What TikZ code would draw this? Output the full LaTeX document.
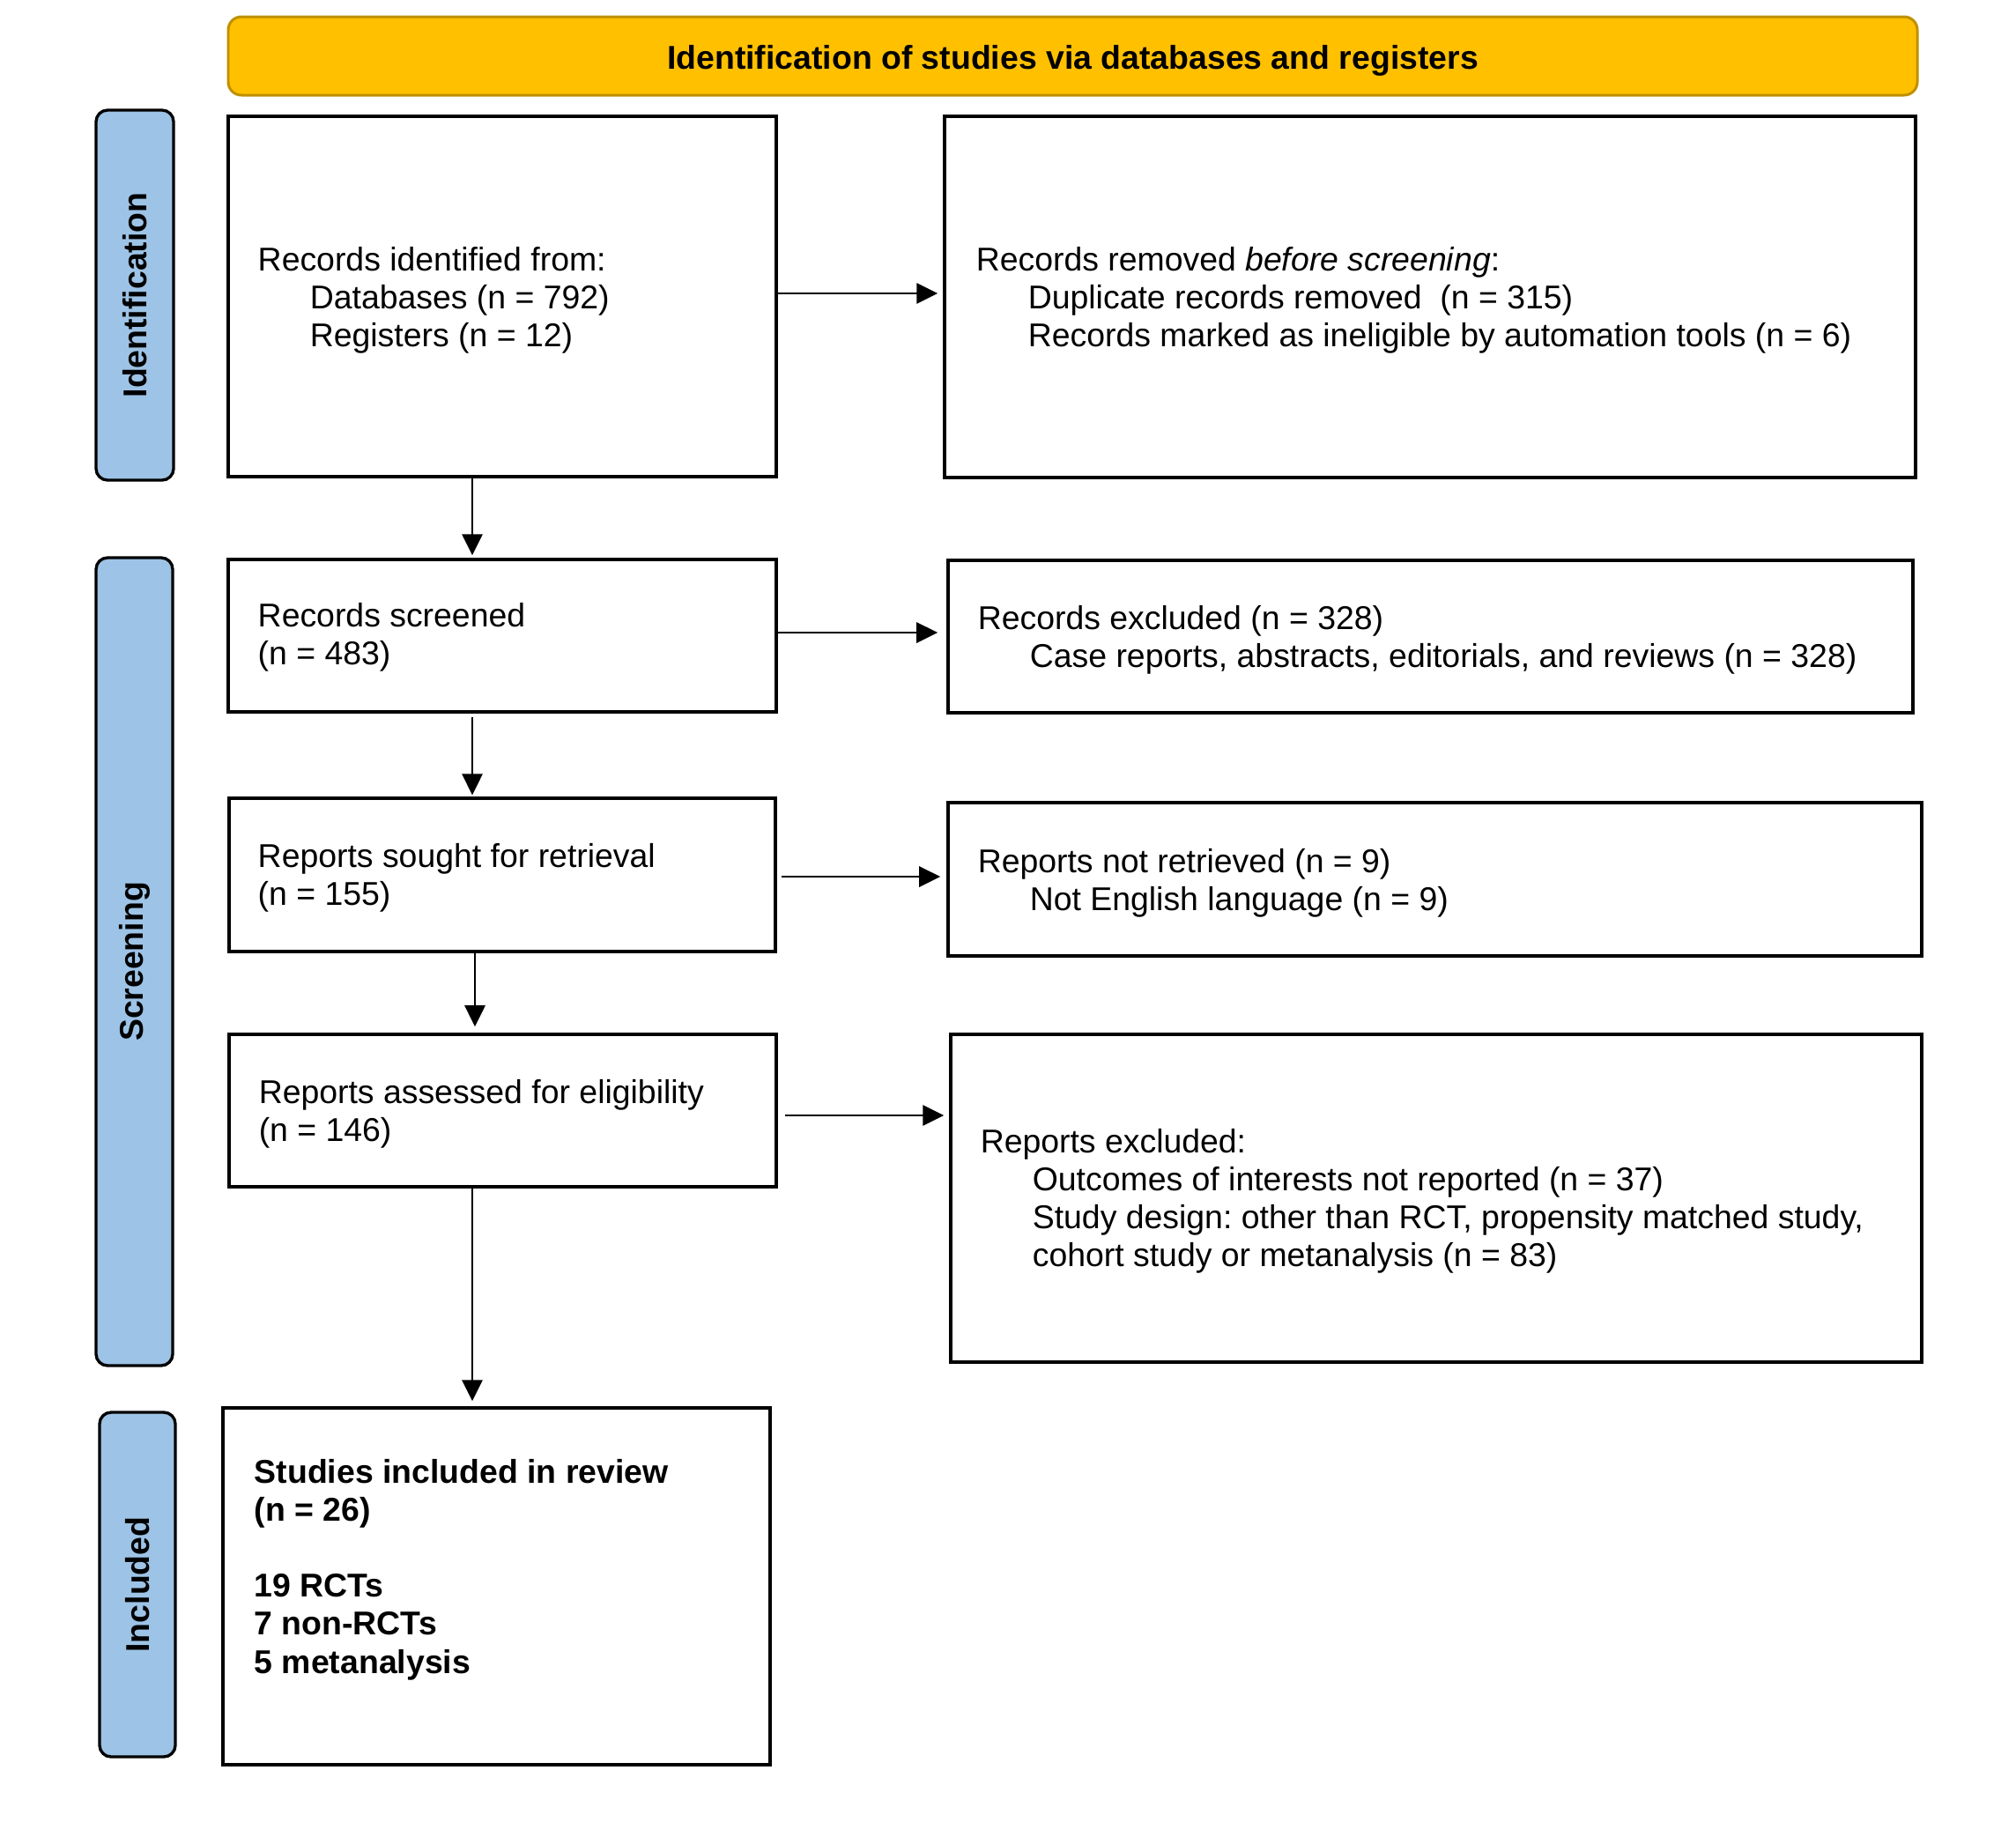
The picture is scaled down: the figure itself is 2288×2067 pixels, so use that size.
\documentclass[tikz,border=0pt]{standalone}
\usepackage{fontspec}
\setmainfont{Liberation Sans}
\usetikzlibrary{arrows.meta,fit,calc}
\definecolor{hdrfill}{HTML}{FFC000}
\definecolor{hdrdraw}{HTML}{BF9000}
\definecolor{sidefill}{HTML}{9DC3E6}
\newcommand{\ind}{\hspace*{15.8pt}}
\frenchspacing
\begin{document}
\begin{tikzpicture}[x=0.26738pt, y=-0.26738pt,
  box/.style={draw=black, line width=0.95pt, inner sep=0pt},
  hdr/.style={draw=hdrdraw, fill=hdrfill, line width=0.8pt, rounded corners=4pt, inner sep=0pt},
  hdrtxt/.style={inner sep=0pt, font=\fontsize{10}{12}\selectfont\bfseries},
  side/.style={draw=black, fill=sidefill, line width=0.9pt, rounded corners=3.5pt, inner sep=0pt},
  txt/.style={inner sep=0pt, align=left, font=\fontsize{10}{11.55}\selectfont\frenchspacing},
  btxt/.style={txt, font=\fontsize{10}{11.55}\selectfont\bfseries\frenchspacing},
  lab/.style={inner sep=0pt, font=\fontsize{10}{12}\selectfont\bfseries, rotate=90},
  arr/.style={line width=0.6pt, -{Triangle[length=6.4pt,width=6.2pt]}}]
\useasboundingbox (0,0) rectangle (2288,2067);

% header
\node[hdr, fit={(259,19) (2176,108)}] (hdr) {};
\node[hdrtxt, anchor=base] (hdrt) at ($(hdr.center)+(0,14.5)$) {Identification of studies via databases and registers};

% side bars
\node[side, fit={(109,125) (197,545)}] (sideI) {};
\node[side, fit={(109,633) (196,1550)}] (sideS) {};
\node[side, fit={(113,1603) (199,1994)}] (sideC) {};
\node[lab] (labI) at (sideI.center) {Identification};
\node[lab] (labS) at (sideS.center) {Screening};
\node[lab] (labC) at (sideC.center) {Included};

% boxes
\node[box, fit={(259,132) (881,541)}] (b1) {};
\node[box, fit={(1072,132) (2174,542)}] (rb1) {};
\node[box, fit={(259,635) (881,808)}] (b2) {};
\node[box, fit={(1076,636) (2171,809)}] (rb2) {};
\node[box, fit={(260,906) (880,1080)}] (b3) {};
\node[box, fit={(1076,911) (2181,1085)}] (rb3) {};
\node[box, fit={(260,1174) (881,1347)}] (b4) {};
\node[box, fit={(1079,1174) (2181,1546)}] (rb4) {};
\node[box, fit={(253,1598) (874,2003)}] (b5) {};

% texts (anchored at the baseline of their last line)
\node[txt, anchor=base west] (t1) at (292,393.4) {Records identified from:\\\ind Databases (n = 792)\\\ind Registers (n = 12)};
\node[txt, anchor=base west] (rt1) at (1107,393.4) {Records removed \textit{before screening}:\\\ind Duplicate records removed\ \ (n = 315)\\\ind Records marked as ineligible by automation tools (n = 6)};
\node[txt, anchor=base west] (t2) at (292,754.2) {Records screened\\(n = 483)};
\node[txt, anchor=base west] (rt2) at (1109,757.2) {Records excluded (n = 328)\\\ind Case reports, abstracts, editorials, and reviews (n = 328)};
\node[txt, anchor=base west] (t3) at (292,1027.2) {Reports sought for retrieval\\(n = 155)};
\node[txt, anchor=base west] (rt3) at (1109,1033.2) {Reports not retrieved (n = 9)\\\ind Not English language (n = 9)};
\node[txt, anchor=base west] (t4) at (293,1295.2) {Reports assessed for eligibility\\(n = 146)};
\node[txt, anchor=base west] (rt4) at (1112,1437.6) {Reports excluded:\\\ind Outcomes of interests not reported (n = 37)\\\ind Study design: other than RCT, propensity matched study,\\\ind cohort study or metanalysis (n = 83)};
\node[btxt, anchor=base west] (t5) at (288,1899) {Studies included in review\\(n = 26)\\[11.55pt]19 RCTs\\7 non-RCTs\\5 metanalysis};

% connector guides
\coordinate (cA) at (536,0);
\coordinate (cB) at (539,0);
\coordinate (r1) at (0,333);
\coordinate (r2) at (0,718);
\coordinate (r3) at (0,995);
\coordinate (r4) at (0,1266);

% vertical arrows
\draw[arr, shorten >=0.8pt] (b1.south -| cA) -- (b2.north -| cA);
\draw[arr, shorten <=1pt, shorten >=0.5pt] (b2.south -| cA) -- (b3.north -| cA);
\draw[arr, shorten >=1.9pt] (b3.south -| cB) -- (b4.north -| cB);
\draw[arr, shorten >=1.6pt] (b4.south -| cA) -- (b5.north -| cA);

% horizontal arrows
\draw[arr, shorten >=1.6pt] (b1.east |- r1) -- (rb1.west |- r1);
\draw[arr, shorten >=2.7pt] (b2.east |- r2) -- (rb2.west |- r2);
\draw[arr, shorten <=1.3pt, shorten >=1.9pt] (b3.east |- r3) -- (rb3.west |- r3);
\draw[arr, shorten <=2.1pt, shorten >=1.6pt] (b4.east |- r4) -- (rb4.west |- r4);
\end{tikzpicture}
\end{document}
